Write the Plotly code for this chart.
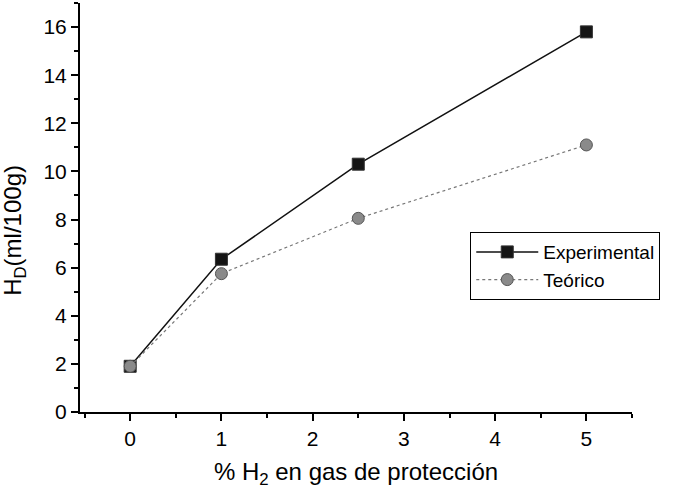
import plotly.graph_objects as go

x_exp = [0, 1, 2.5, 5]
y_exp = [1.9, 6.35, 10.3, 15.8]
x_teo = [0, 1, 2.5, 5]
y_teo = [1.9, 5.75, 8.05, 11.1]

font_family = "Liberation Sans, Arial, sans-serif"

fig = go.Figure()
fig.add_trace(go.Scatter(
    x=x_exp, y=y_exp, name="Experimental", mode="lines+markers",
    line=dict(color="#111111", width=1.5),
    marker=dict(symbol="square", size=12, color="#151515",
                line=dict(color="#333333", width=1)),
))
fig.add_trace(go.Scatter(
    x=x_teo, y=y_teo, name="Teórico", mode="lines+markers",
    line=dict(color="#777777", width=1.2, dash="dot"),
    marker=dict(symbol="circle", size=12, color="#8a8a8a",
                line=dict(color="#555555", width=1)),
))

axis_common = dict(
    showline=True, linecolor="black", linewidth=2,
    ticks="outside", ticklen=7, tickwidth=1.5, tickcolor="black",
    showgrid=False, zeroline=False, mirror=False,
    tickfont=dict(family=font_family, size=21, color="black"),
)

fig.update_xaxes(
    range=[-0.55, 5.5], tick0=0, dtick=1,
    minor=dict(ticks="outside", ticklen=4, tickwidth=1.5, tickcolor="black", dtick=0.5),
    title=dict(text="% H<sub>2</sub> en gas de protección",
               font=dict(family=font_family, size=24, color="black"), standoff=14),
    **axis_common,
)
fig.update_yaxes(
    range=[0, 17], tick0=0, dtick=2,
    minor=dict(ticks="outside", ticklen=4, tickwidth=1.5, tickcolor="black", dtick=1),
    **axis_common,
)

fig.add_annotation(
    text="H<sub>D</sub>(ml/100g)", textangle=-90,
    xref="paper", yref="paper", x=-0.118, y=0.445,
    xanchor="center", yanchor="middle", showarrow=False,
    font=dict(family=font_family, size=24, color="black"),
)

fig.update_layout(
    width=677, height=490,
    margin=dict(l=80, r=45, t=3, b=78),
    paper_bgcolor="white", plot_bgcolor="white",
    showlegend=True,
    legend=dict(
        x=0.707, y=0.44, xanchor="left", yanchor="top",
        bgcolor="white", bordercolor="black", borderwidth=1,
        font=dict(family=font_family, size=19, color="black"),
        tracegroupgap=0, itemwidth=62,
    ),
)

fig.write_html("out.html")
